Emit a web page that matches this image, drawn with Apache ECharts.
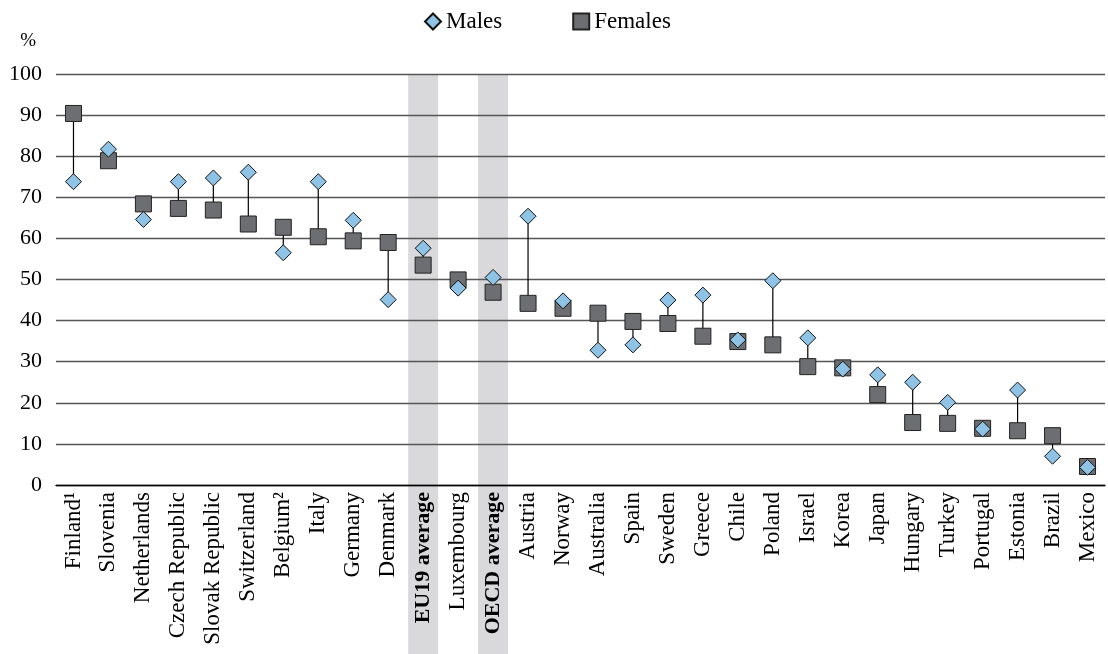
<!DOCTYPE html>
<html>
<head>
<meta charset="utf-8">
<script src="https://cdn.jsdelivr.net/npm/echarts@6/dist/echarts.min.js"></script>
<style>html,body{margin:0;padding:0;background:#fff}#c{width:1108px;height:654px}</style>
</head>
<body>
<div id="c"></div>
<script>
var categories = ['Finland\u00B9','Slovenia','Netherlands','Czech Republic','Slovak Republic','Switzerland','Belgium\u00B2','Italy','Germany','Denmark','EU19 average','Luxembourg','OECD average','Austria','Norway','Australia','Spain','Sweden','Greece','Chile','Poland','Israel','Korea','Japan','Hungary','Turkey','Portugal','Estonia','Brazil','Mexico'];
var males = [73.8,81.7,64.6,73.8,74.7,76.1,56.5,73.8,64.4,45.1,57.6,47.9,50.5,65.4,44.8,32.8,34.1,45.0,46.2,35.3,49.7,35.8,28.2,26.8,25.0,20.1,13.6,23.1,7.0,4.3];
var females = [90.4,78.9,68.4,67.3,66.9,63.5,62.7,60.4,59.4,59.0,53.5,49.9,46.9,44.2,43.0,41.8,39.8,39.3,36.2,34.9,34.1,28.8,28.5,22.0,15.2,15.0,13.8,13.2,12.0,4.5];
var highlighted = ['EU19 average','OECD average'];
var yTicks = [0,10,20,30,40,50,60,70,80,90,100];

var FONT = '"Liberation Serif", "DejaVu Serif", serif';
var shade = categories.map(function(c){ return highlighted.indexOf(c) >= 0 ? 1 : '-'; });
var links = categories.map(function(c,i){ return [i, males[i], females[i]]; });

var chart = echarts.init(document.getElementById('c'));
chart.setOption({
  animation: false,
  textStyle: {fontFamily: FONT},
  legend: {
    top: 5, left: 419, itemGap: 70, itemWidth: 16, itemHeight: 16,
    textStyle: {fontFamily: FONT, fontSize: 23, color: '#000'},
    data: [{name:'Males', icon:'diamond'}, {name:'Females', icon:'rect'}]
  },
  grid: [
    {left: 56, right: 3, top: 74, bottom: 169},
    {left: 56, right: 3, top: 74, bottom: 0}
  ],
  xAxis: [
    {
      type: 'category', data: categories, gridIndex: 0,
      axisLine: {lineStyle: {color: '#000', width: 1.3}},
      axisTick: {show: false},
      axisLabel: {
        rotate: 90, interval: 0, margin: 7, color: '#000', fontSize: 23, fontFamily: FONT,
        formatter: function(v){ return highlighted.indexOf(v) >= 0 ? '{b|' + v + '}' : v; },
        rich: {b: {fontWeight: 'bold', fontSize: 22, fontFamily: FONT, color: '#000'}}
      }
    },
    {type: 'category', data: categories, gridIndex: 1, show: false}
  ],
  yAxis: [
    {
      type: 'value', gridIndex: 0, min: 0, max: 100, interval: 10,
      name: '%', nameLocation: 'end', nameGap: 23,
      nameTextStyle: {fontFamily: FONT, fontSize: 19, color: '#000', align: 'right', padding: [0, 20, 0, 0]},
      axisLine: {show: false}, axisTick: {show: false},
      axisLabel: {color: '#000', fontSize: 22, fontFamily: FONT, margin: 14},
      splitLine: {lineStyle: {color: '#555', width: 1.3}}
    },
    {type: 'value', gridIndex: 1, min: 0, max: 1, show: false}
  ],
  series: [
    {
      type: 'bar', xAxisIndex: 1, yAxisIndex: 1, data: shade, barWidth: 30,
      itemStyle: {color: '#D9D9DB'}, z: -1, silent: true
    },
    {
      type: 'custom', xAxisIndex: 0, yAxisIndex: 0, data: links, z: 3, silent: true,
      renderItem: function(params, api){
        var a = api.coord([api.value(0), api.value(1)]);
        var b = api.coord([api.value(0), api.value(2)]);
        return {type: 'line', shape: {x1: a[0], y1: a[1], x2: b[0], y2: b[1]}, style: {stroke: '#000', lineWidth: 1.2}};
      }
    },
    {
      name: 'Females', type: 'scatter', data: females, symbol: 'rect', symbolSize: 16, z: 4,
      itemStyle: {color: '#6D6E71', borderColor: '#222', borderWidth: 1, opacity: 1}
    },
    {
      name: 'Males', type: 'scatter', data: males, symbol: 'diamond', symbolSize: 16, z: 5,
      itemStyle: {color: '#8EC3E6', borderColor: '#111', borderWidth: 1, opacity: 1}
    }
  ]
});
</script>
</body>
</html>
